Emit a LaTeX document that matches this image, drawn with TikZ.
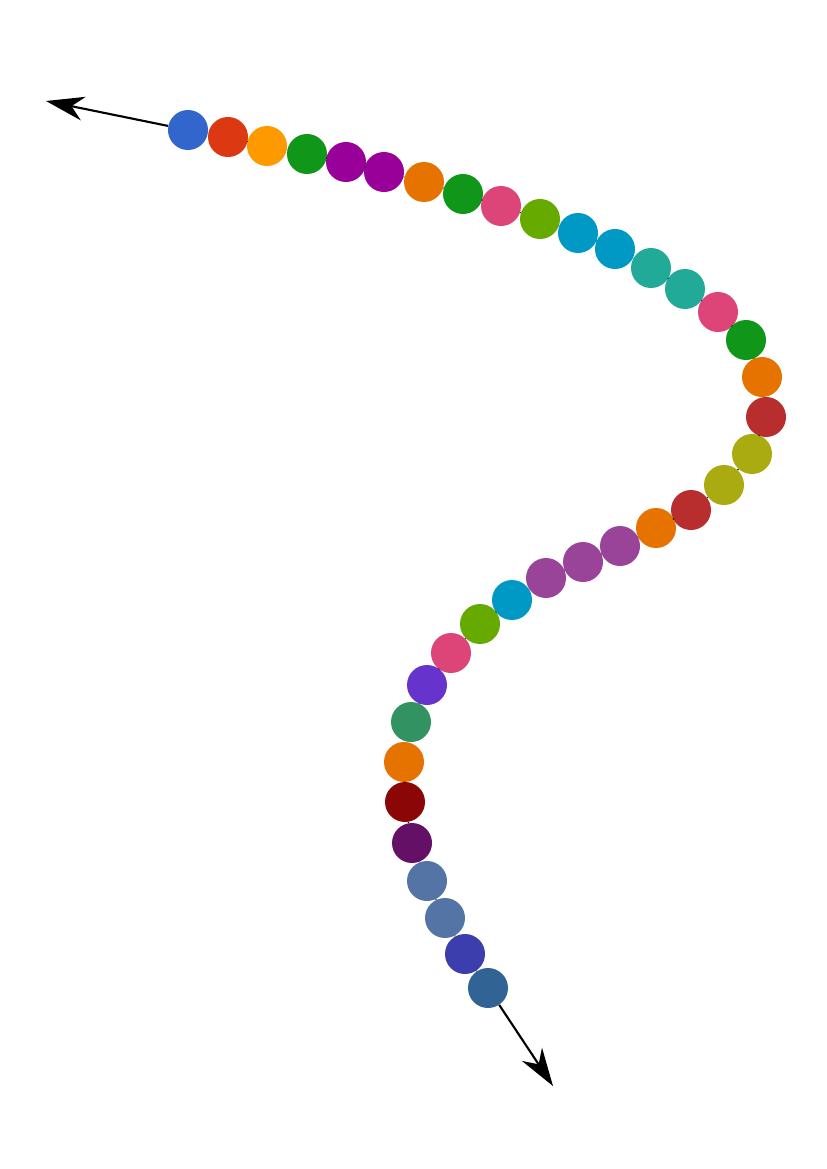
\documentclass[tikz,border=0pt]{standalone}
\usepackage{tikz}
\usetikzlibrary{arrows.meta, positioning}
\definecolor{cblue}{HTML}{3366CC}
\definecolor{cred}{HTML}{DC3912}
\definecolor{cyellow}{HTML}{FF9900}
\definecolor{cgreen}{HTML}{109618}
\definecolor{cpurple}{HTML}{990099}
\definecolor{corange}{HTML}{E67300}
\definecolor{cpink}{HTML}{DD4477}
\definecolor{clime}{HTML}{66AA00}
\definecolor{ccyan}{HTML}{0099C6}
\definecolor{cteal}{HTML}{22AA99}
\definecolor{cbrick}{HTML}{B82E2E}
\definecolor{colive}{HTML}{AAAA11}
\definecolor{cmauve}{HTML}{994499}
\definecolor{cviolet}{HTML}{6633CC}
\definecolor{cjade}{HTML}{329262}
\definecolor{cmaroon}{HTML}{8B0707}
\definecolor{cplum}{HTML}{651067}
\definecolor{csteel}{HTML}{5574A6}
\definecolor{cindigo}{HTML}{3B3EAC}
\definecolor{cnavy}{HTML}{316395}
\tikzstyle{bead} = [circle, minimum size=1cm, inner sep=0pt, draw=none]
\tikzstyle{link} = [black, line width=0.8pt]
\tikzstyle{arrow3} = [line width=1.5pt, -{Stealth[length=0.95cm, width=0.6cm, inset=0.3cm]}]

\begin{document}
\begin{tikzpicture}[x=0.025cm, y=-0.025cm]
    \useasboundingbox (0,0) rectangle (827,1169);
    % Nodes
    \node (n1) [bead, fill=cblue] at (188,130) {};
    \node (n2) [bead, fill=cred] at (228,137) {};
    \node (n3) [bead, fill=cyellow] at (267,146) {};
    \node (n4) [bead, fill=cgreen] at (307,154) {};
    \node (n5) [bead, fill=cpurple] at (346,162) {};
    \node (n6) [bead, fill=cpurple] at (384,172) {};
    \node (n7) [bead, fill=corange] at (424,182) {};
    \node (n8) [bead, fill=cgreen] at (463,194) {};
    \node (n9) [bead, fill=cpink] at (501,206) {};
    \node (n10) [bead, fill=clime] at (540,219) {};
    \node (n11) [bead, fill=ccyan] at (578,233) {};
    \node (n12) [bead, fill=ccyan] at (615,249) {};
    \node (n13) [bead, fill=cteal] at (651,268) {};
    \node (n14) [bead, fill=cteal] at (685,289) {};
    \node (n15) [bead, fill=cpink] at (718,312) {};
    \node (n16) [bead, fill=cgreen] at (746,340) {};
    \node (n17) [bead, fill=corange] at (762,377) {};
    \node (n18) [bead, fill=cbrick] at (766,417) {};
    \node (n19) [bead, fill=colive] at (752,454) {};
    \node (n20) [bead, fill=colive] at (724,485) {};
    \node (n21) [bead, fill=cbrick] at (691,510) {};
    \node (n22) [bead, fill=corange] at (656,528) {};
    \node (n23) [bead, fill=cmauve] at (620,546) {};
    \node (n24) [bead, fill=cmauve] at (583,562) {};
    \node (n25) [bead, fill=cmauve] at (546,578) {};
    \node (n26) [bead, fill=ccyan] at (512,600) {};
    \node (n27) [bead, fill=clime] at (480,624) {};
    \node (n28) [bead, fill=cpink] at (451,653) {};
    \node (n29) [bead, fill=cviolet] at (427,685) {};
    \node (n30) [bead, fill=cjade] at (411,722) {};
    \node (n31) [bead, fill=corange] at (404,762) {};
    \node (n32) [bead, fill=cmaroon] at (405,802) {};
    \node (n33) [bead, fill=cplum] at (412,843) {};
    \node (n34) [bead, fill=csteel] at (427,881) {};
    \node (n35) [bead, fill=csteel] at (445,918) {};
    \node (n36) [bead, fill=cindigo] at (465,954) {};
    \node (n37) [bead, fill=cnavy] at (488,988) {};

    \coordinate (head) at (46,101);
    \coordinate (tail) at (553,1086);

    % Edges
    \draw [link] (n1) -- (n2) -- (n3) -- (n4) -- (n5) -- (n6) -- (n7) -- (n8) -- (n9) -- (n10)
        -- (n11) -- (n12) -- (n13) -- (n14) -- (n15) -- (n16) -- (n17) -- (n18) -- (n19)
        -- (n20) -- (n21) -- (n22) -- (n23) -- (n24) -- (n25) -- (n26) -- (n27) -- (n28)
        -- (n29) -- (n30) -- (n31) -- (n32) -- (n33) -- (n34) -- (n35) -- (n36) -- (n37);
    \draw [arrow3] (n1) -- (head);
    \draw [arrow3] (n37) -- (tail);
\end{tikzpicture}
\end{document}
